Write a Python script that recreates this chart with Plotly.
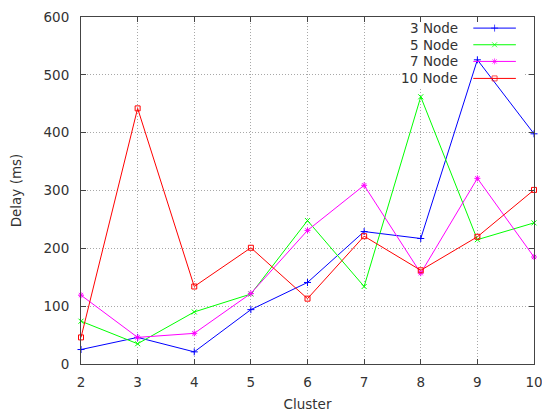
import plotly.graph_objects as go

clusters = [2, 3, 4, 5, 6, 7, 8, 9, 10]
node3 = [25, 46, 21, 94, 141, 229, 217, 526, 398]
node5 = [74, 35, 90, 121, 248, 134, 462, 215, 244]
node7 = [119, 46, 53, 122, 231, 309, 157, 321, 185]
node10 = [46, 442, 134, 201, 113, 221, 162, 220, 301]
series_names = ["3 Node", "5 Node", "7 Node", "10 Node"]
series_colors = ["#0000ff", "#00ff00", "#ff00ff", "#ff0000"]
series_symbols = ["cross-thin-open", "x-thin-open", "asterisk-open", "square-open"]
y_ticks = [0, 100, 200, 300, 400, 500, 600]

X_RANGE = [2, 10]
Y_RANGE = [0, 600]

fig = go.Figure()
font = dict(family="DejaVu Sans", size=13.5, color="#333333")


def fx(f):
    return X_RANGE[0] + f * (X_RANGE[1] - X_RANGE[0])


def fy(f):
    return Y_RANGE[0] + f * (Y_RANGE[1] - Y_RANGE[0])


# opaque key box (drawn above grid, below data lines)
bx0, bx1, by0, by1 = 0.704, 0.976, 0.795, 0.997
fig.add_trace(go.Scatter(
    x=[fx(bx0), fx(bx1), fx(bx1), fx(bx0), fx(bx0)],
    y=[fy(by0), fy(by0), fy(by1), fy(by1), fy(by0)],
    mode="lines", fill="toself", fillcolor="white", line=dict(width=0, color="white"),
    showlegend=False, hoverinfo="skip",
))

for name, vals, col, sym in zip(series_names, [node3, node5, node7, node10], series_colors, series_symbols):
    fig.add_trace(go.Scatter(
        x=clusters, y=vals, mode="lines+markers", name=name,
        line=dict(color=col, width=1),
        marker=dict(symbol=sym, size=5, color=col, line=dict(color=col, width=1)),
        showlegend=False, cliponaxis=False,
    ))

# gnuplot-style key: text right-aligned, sample to the right
key_y = [0.968, 0.92, 0.872, 0.823]
for i, (name, col, sym) in enumerate(zip(series_names, series_colors, series_symbols)):
    fig.add_annotation(x=0.837, y=key_y[i], xref="paper", yref="paper", text=name,
                       showarrow=False, xanchor="right", yanchor="middle", font=font)
    fig.add_trace(go.Scatter(
        x=[0.866, 0.913, 0.96], y=[key_y[i]] * 3, xaxis="x2", yaxis="y2",
        mode="lines+markers", line=dict(color=col, width=1),
        marker=dict(symbol=sym, size=[0, 5, 0], color=col, line=dict(color=col, width=1)),
        showlegend=False, hoverinfo="skip",
    ))

axis_common = dict(
    showline=True, linecolor="#444444", linewidth=1, mirror="ticks",
    ticks="inside", ticklen=5, tickcolor="#444444",
    showgrid=True, gridcolor="#a8a8a8", griddash="1px,2px", gridwidth=1,
    zeroline=False, tickfont=font, ticklabeloverflow="allow",
)

fig.update_layout(
    width=542, height=412,
    margin=dict(l=81, r=8, t=17, b=48, autoexpand=False),
    plot_bgcolor="white", paper_bgcolor="white",
    font=font,
    xaxis=dict(range=X_RANGE, tickvals=clusters, ticklabelstandoff=6,
               title=dict(text="Cluster", font=font, standoff=10), automargin=False, **axis_common),
    yaxis=dict(range=Y_RANGE, tickvals=y_ticks, ticklabelstandoff=8,
               title=dict(text="Delay (ms)", font=font, standoff=18), automargin=False, **axis_common),
    xaxis2=dict(overlaying="x", range=[0, 1], visible=False, anchor="y2"),
    yaxis2=dict(overlaying="y", range=[0, 1], visible=False, anchor="x2"),
)

fig.write_html("out.html", config={"displayModeBar": False},
               post_script="document.body.style.margin='0';")
